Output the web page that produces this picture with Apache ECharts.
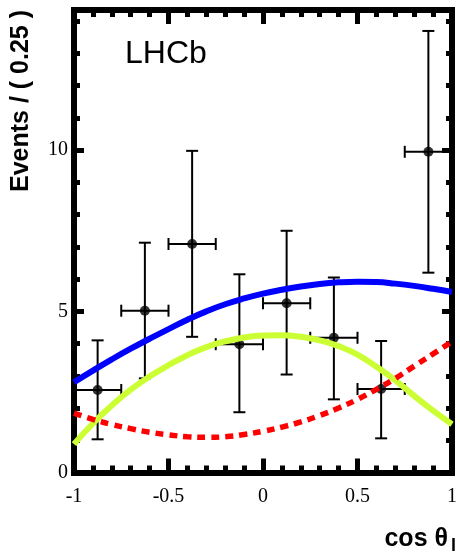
<!DOCTYPE html>
<html><head><meta charset="utf-8">
<script src="https://cdn.jsdelivr.net/npm/echarts@6/dist/echarts.min.js"></script>
<style>html,body{margin:0;padding:0;background:#fff}#c{width:460px;height:553px}</style>
</head><body><div id="c"></div>
<script>
// ---- data ----
const binCenters   = [-0.875, -0.625, -0.375, -0.125, 0.125, 0.375, 0.625, 0.875];
const binHalfWidth = [0.125, 0.125, 0.125, 0.125, 0.125, 0.125, 0.125, 0.125];
const events       = [2.56, 5.02, 7.09, 3.98, 5.25, 4.18, 2.59, 9.95];
const errLower     = [1.03, 2.92, 4.21, 1.87, 3.04, 2.27, 1.06, 6.20];
const errUpper     = [4.10, 7.13, 9.98, 6.15, 7.50, 6.05, 4.08, 13.70];

const curveX        = [-1, -0.9, -0.8, -0.7, -0.6, -0.5, -0.4, -0.3, -0.2, -0.1, 0, 0.1, 0.2, 0.3, 0.4, 0.5, 0.6, 0.7, 0.8, 0.9, 1];
const totalFit      = [2.80, 3.16, 3.51, 3.84, 4.15, 4.45, 4.74, 5.00, 5.22, 5.40, 5.55, 5.67, 5.77, 5.85, 5.90, 5.92, 5.91, 5.86, 5.79, 5.70, 5.60];
const signalFit     = [0.88, 1.52, 2.08, 2.57, 2.98, 3.33, 3.64, 3.89, 4.07, 4.19, 4.25, 4.26, 4.21, 4.10, 3.92, 3.66, 3.28, 2.86, 2.38, 1.92, 1.50];
const backgroundFit = [1.84, 1.65, 1.49, 1.36, 1.25, 1.17, 1.11, 1.09, 1.11, 1.18, 1.28, 1.41, 1.57, 1.77, 2.00, 2.27, 2.58, 2.92, 3.30, 3.68, 4.06];

const xMin = -1, xMax = 1, xMajor = 0.5;
const yMin = 0, yMax = 14.35, yMajor = 5, yMinor = 1;
const yLabelValues = [0, 5, 10];

const labelFont = {fontFamily: 'Liberation Serif', fontSize: 20, color: '#000'};
const frame = {show: true, onZero: false, lineStyle: {color: '#000', width: 6, cap: 'square'}};
const noLine = {show: false, onZero: false};

function xAxisDef(pos, showLabel) {
  return {
    type: 'value', position: pos, min: xMin, max: xMax, interval: xMajor,
    axisLine: frame,
    axisTick: {show: true, inside: true, length: 14, lineStyle: {color: '#000', width: 5}},
    minorTick: {show: true, splitNumber: 5, length: 7, lineStyle: {color: '#000', width: 5}},
    axisLabel: Object.assign({show: showLabel, margin: 14,
      formatter: v => String(Math.round(v * 10) / 10)}, labelFont),
    splitLine: {show: false}, minorSplitLine: {show: false}
  };
}
function yAxisDef(pos, interval, tickLen, line, showLabel) {
  return {
    type: 'value', position: pos, min: yMin, max: yMax, interval: interval,
    axisLine: line ? frame : noLine,
    axisTick: {show: true, inside: true, length: tickLen, lineStyle: {color: '#000', width: 5}},
    axisLabel: Object.assign({show: showLabel, margin: 6, showMaxLabel: false,
      formatter: v => (yLabelValues.indexOf(v) >= 0 ? String(v) : '')}, labelFont),
    splitLine: {show: false}
  };
}

const pointData = binCenters.map((x, i) => [x, events[i], errLower[i], errUpper[i], x - binHalfWidth[i], x + binHalfWidth[i]]);

const chart = echarts.init(document.getElementById('c'), null, {renderer: 'canvas'});
chart.setOption({
  backgroundColor: '#fff',
  animation: false,
  grid: {left: 74, right: 5, top: 10, bottom: 80.5, containLabel: false},
  xAxis: [xAxisDef('bottom', true), xAxisDef('top', false)],
  yAxis: [
    yAxisDef('left', yMinor, 6, true, true),
    yAxisDef('left', yMajor, 10, false, false),
    yAxisDef('right', yMinor, 6, true, false),
    yAxisDef('right', yMajor, 10, false, false)
  ],
  graphic: [
    {type: 'text', x: 125, y: 54, z: 100,
     style: {text: 'LHCb', font: '32px "Liberation Sans"', fill: '#000', textAlign: 'left', textVerticalAlign: 'middle'}},
    {type: 'text', x: 21, y: 101, rotation: Math.PI / 2, z: 100,
     style: {text: 'Events / ( 0.25 )', font: 'bold 25px "Liberation Sans"', fill: '#000', textAlign: 'center', textVerticalAlign: 'middle'}},
    {type: 'text', x: 448, y: 539, z: 100,
     style: {text: 'cos θ', font: 'bold 25px "Liberation Sans"', fill: '#000', textAlign: 'right', textVerticalAlign: 'middle'}},
    {type: 'text', x: 451, y: 537, z: 100,
     style: {text: 'l', font: 'bold 18px "Liberation Sans"', fill: '#000', textAlign: 'left', textVerticalAlign: 'top'}}
  ],
  series: [
    {
      type: 'custom', xAxisIndex: 0, yAxisIndex: 0, z: 2,
      encode: {x: [0, 4, 5], y: [1, 2, 3]},
      data: pointData,
      renderItem: function (params, api) {
        const x = api.value(0), y = api.value(1);
        const lo = api.coord([x, api.value(2)]);
        const hi = api.coord([x, api.value(3)]);
        const l = api.coord([api.value(4), y]);
        const r = api.coord([api.value(5), y]);
        const c = 6;
        const st = {stroke: '#000', lineWidth: 2, fill: null};
        const L = (x1, y1, x2, y2) => ({type: 'line', shape: {x1, y1, x2, y2}, style: st});
        return {type: 'group', children: [
          L(lo[0], lo[1], hi[0], hi[1]),
          L(hi[0] - c, hi[1], hi[0] + c, hi[1]),
          L(lo[0] - c, lo[1], lo[0] + c, lo[1]),
          L(l[0], l[1], r[0], r[1]),
          L(l[0], l[1] - c, l[0], l[1] + c),
          L(r[0], r[1] - c, r[0], r[1] + c)
        ]};
      }
    },
    {
      type: 'scatter', xAxisIndex: 0, yAxisIndex: 0, z: 3,
      symbol: 'circle', symbolSize: 10,
      itemStyle: {color: '#000'},
      data: binCenters.map((x, i) => [x, events[i]])
    },
    {
      type: 'line', xAxisIndex: 0, yAxisIndex: 0, z: 4, smooth: 0.5, showSymbol: false,
      lineStyle: {color: '#ccff33', width: 6},
      data: curveX.map((x, i) => [x, signalFit[i]])
    },
    {
      type: 'line', xAxisIndex: 0, yAxisIndex: 0, z: 5, smooth: 0.5, showSymbol: false,
      lineStyle: {color: '#0000ff', width: 6},
      data: curveX.map((x, i) => [x, totalFit[i]])
    },
    {
      type: 'line', xAxisIndex: 0, yAxisIndex: 0, z: 6, smooth: 0.5, showSymbol: false,
      lineStyle: {color: '#ff0000', width: 5.5, type: [8, 6]},
      data: curveX.map((x, i) => [x, backgroundFit[i]])
    }
  ]
});
</script>
</body></html>
